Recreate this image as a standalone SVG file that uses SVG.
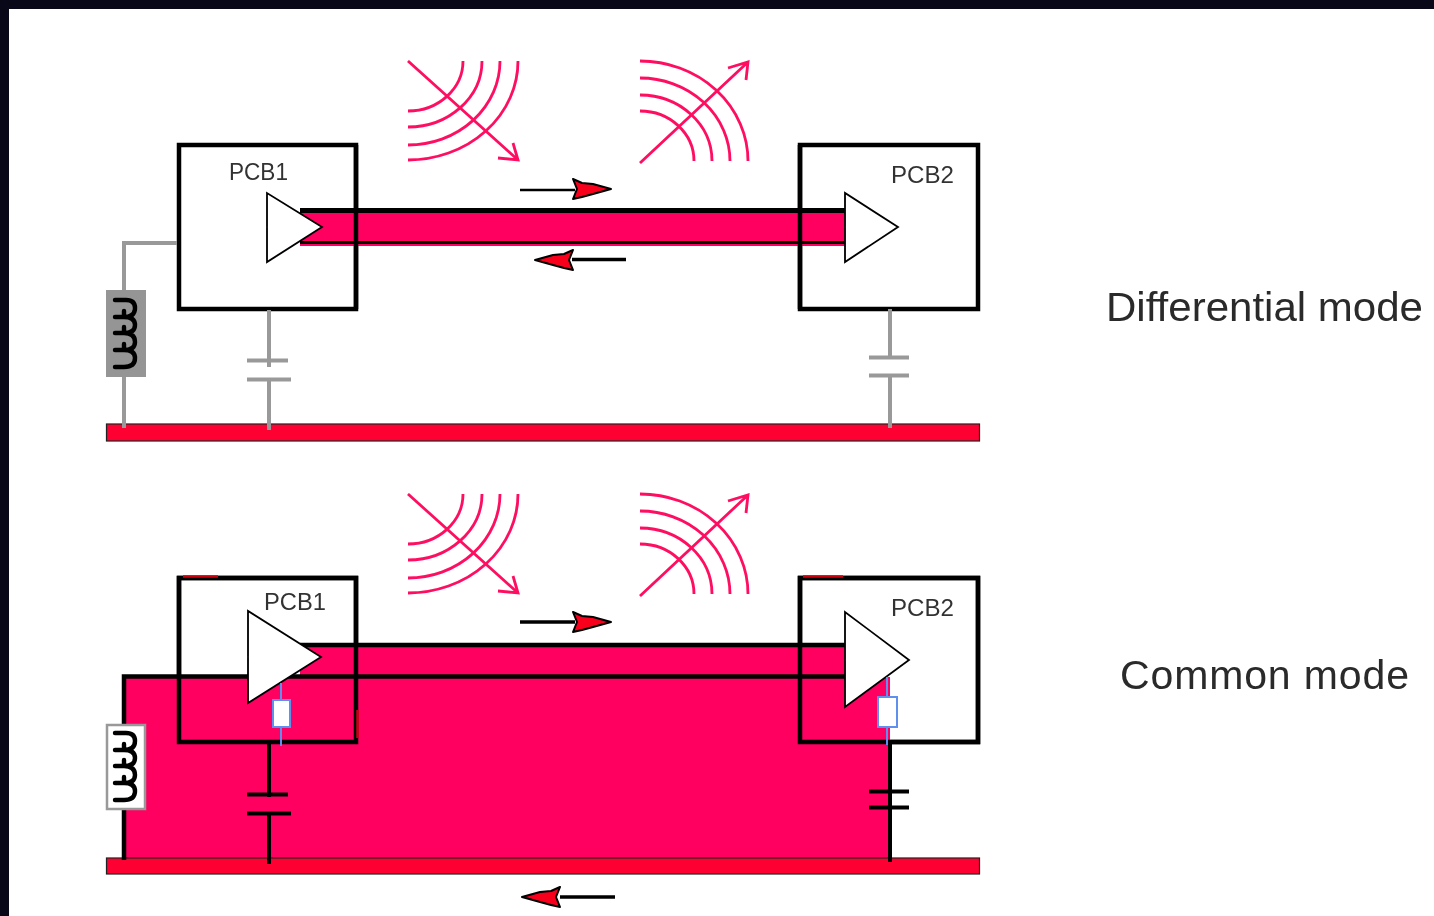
<svg xmlns="http://www.w3.org/2000/svg" width="1434" height="916" viewBox="0 0 1434 916">
<style>
.pcb{fill:#fff;stroke:#000;stroke-width:4.5}
.pcbo{fill:none;stroke:#000;stroke-width:4.5}
.tri{fill:#fff;stroke:#000;stroke-width:1.8}
.bar{fill:#ff0030;stroke:#222;stroke-width:1.2}
.pink{fill:#ff0060}
.k{fill:none;stroke:#000}
.g{fill:none;stroke:#999;stroke-width:4}
.kw{fill:none;stroke:#000;stroke-width:4}
.wave{fill:none;stroke:#ff0a60;stroke-width:2.8}
.coil{fill:none;stroke:#000;stroke-width:4.4;stroke-linejoin:round;stroke-linecap:round}
.res{fill:#fff;stroke:#5f90ee;stroke-width:2}
.blue{fill:none;stroke:#5f90ee;stroke-width:2}
.ah{fill:#f8001c;stroke:#000;stroke-width:2;stroke-linejoin:round}
.dr{fill:none;stroke:#cc0010;stroke-width:2.5}
.lbl{font-family:"Liberation Sans",Arial,sans-serif;fill:#333;font-size:23px}
.big{font-family:"Liberation Sans",Arial,sans-serif;fill:#2a2a2a;font-size:41px}
</style>
<defs>
<filter id="soft" x="0" y="0" width="1434" height="916" filterUnits="userSpaceOnUse"><feGaussianBlur stdDeviation="0.55"/></filter>
<path id="coilshape" class="coil" d="M115 300H126Q135 300 135 308Q135 317 124 317H115H124V311V317Q135 317 135 325Q135 333 124 333H115H124V327V333Q135 333 135 342Q135 350 124 350H115H124V344V350Q135 350 135 358Q135 367 124 367H115"/>
<path id="headR" class="ah" d="M573 -10L582 -6L593 -5L611 0L593 5L582 8L573 10L577 0Z"/>
<path id="headL" class="ah" d="M573 -10L564 -6L553 -5L535 0L553 5L564 8L573 10L569 0Z"/>
<g id="waveL"><path class="wave" d="M408 111A55 50 0 0 0 463 61M408 127A74 66 0 0 0 482 61M408 145A92 84 0 0 0 500 61M408 160A110 99 0 0 0 518 61"/><path class="wave" d="M408 61L518 160M498 158L518 160L513 143"/></g>
<g id="waveR"><path class="wave" d="M640 61A108 100 0 0 1 748 161M640 78A90 83 0 0 1 730 161M640 95A72 66 0 0 1 712 161M640 111A54 50 0 0 1 694 161"/><path class="wave" d="M640 163L748 62M728 68L748 62L746 80"/></g>
</defs>
<rect width="1434" height="916" fill="#fff"/>
<g filter="url(#soft)">

<g id="top-mode">
<g id="top-wave-left"><use href="#waveL"/></g>
<g id="top-wave-right"><use href="#waveR"/></g>
<g id="top-pcb1"><rect class="pcb" x="179" y="145" width="177" height="164"/><text class="lbl" x="229" y="180" textLength="59" lengthAdjust="spacingAndGlyphs">PCB1</text></g>
<g id="top-pcb2"><rect class="pcb" x="800" y="145" width="178" height="164"/><text class="lbl" x="891" y="183" textLength="63" lengthAdjust="spacingAndGlyphs">PCB2</text></g>
<g id="top-ground"><rect class="bar" x="106.500" y="424" width="873" height="17"/></g>
<g id="top-inductor"><rect x="106" y="290" width="40" height="87" fill="#959595"/><use href="#coilshape"/></g>
<g id="top-connectors">
<rect class="pink" x="300" y="209" width="545" height="37"/>
<path class="k" stroke-width="5" d="M300 210.500H845"/>
<path class="k" stroke-width="3" d="M300 242.500H845"/>
<path class="k" stroke-width="4.500" d="M356 145V309M800 145V309"/>
<path class="g" d="M177 243H124V290M124 377V428"/>
<path class="g" d="M269 310V367M247 360.500H288M247 379.500H291M269 379.500V430"/>
<path class="g" d="M890 309V358"/>
<path class="g" stroke-width="5" d="M869 357.500H909"/>
<path class="g" stroke-width="2" d="M869 375.500H909"/>
<path class="g" d="M890 375V428"/>
<path class="k" stroke-width="2.500" d="M520 190H575"/>
<use href="#headR" y="189"/>
<path class="k" stroke-width="3.500" d="M626 259.500H572"/>
<use href="#headL" y="260"/>
</g>
<g id="top-amp1"><path class="tri" d="M267 193V262L322 227Z"/></g>
<g id="top-amp2"><path class="tri" d="M845 193V262L898 227Z"/></g>
</g>

<g id="bottom-mode">
<g id="bottom-wave-left"><use href="#waveL" y="433"/></g>
<g id="bottom-wave-right"><use href="#waveR" y="433"/></g>
<g id="bottom-pcb1"><rect class="pcb" x="179" y="578" width="177" height="164"/></g>
<g id="bottom-pcb2"><rect class="pcb" x="800" y="578" width="178" height="164"/></g>
<g id="bottom-fill">
<rect class="pink" x="124" y="677" width="766" height="184"/>
<rect class="pink" x="300" y="645" width="545" height="32"/>
</g>
<g id="bottom-ground"><rect class="bar" x="106.500" y="858" width="873" height="16"/></g>
<g id="bottom-connectors">
<path class="pcbo" d="M179 578H356V742H179ZM800 578H978V742H800Z"/>
<path class="k" stroke-width="4.500" d="M300 645H845M124 860V676.500H845"/>
<path class="kw" d="M269 742V797M247 794.500H288M247 813.500H291M269 813.500V864"/>
<path class="kw" d="M890 742V862M869 791.500H909M869 807.500H909"/>
<path class="dr" d="M183 576.500H218M803 576.500H843"/>
<path class="dr" d="M357.500 710V738"/>
<path class="k" stroke-width="3.500" d="M520 622H575"/>
<use href="#headR" y="622"/>
<path class="k" stroke-width="3.500" d="M615 897H560"/>
<use href="#headL" x="-13" y="897"/>
</g>
<g id="bottom-inductor"><rect x="107" y="725" width="38" height="84" fill="#fff" stroke="#999" stroke-width="2.500"/><use href="#coilshape" y="433"/></g>
<g id="bottom-amp1"><path class="tri" d="M248 611V703L321 657Z"/></g>
<g id="bottom-amp2"><path class="tri" d="M845 612V707L909 660Z"/></g>
<g id="bottom-res1"><path class="blue" d="M281 683V746"/><rect class="res" x="273" y="700" width="17" height="27"/></g>
<g id="bottom-res2"><path class="blue" d="M887 677V745"/><rect class="res" x="878" y="697" width="19" height="30"/></g>
<text class="lbl" x="264" y="610" textLength="62" lengthAdjust="spacingAndGlyphs">PCB1</text>
<text class="lbl" x="891" y="616" textLength="63" lengthAdjust="spacingAndGlyphs">PCB2</text>
</g>

<text class="big" x="1106" y="321" textLength="317" lengthAdjust="spacingAndGlyphs">Differential mode</text>
<text class="big" x="1120" y="689" textLength="289" lengthAdjust="spacing">Common mode</text>
</g>
<rect width="1434" height="9" fill="#080818"/>
<rect width="9" height="916" fill="#080818"/>
</svg>
